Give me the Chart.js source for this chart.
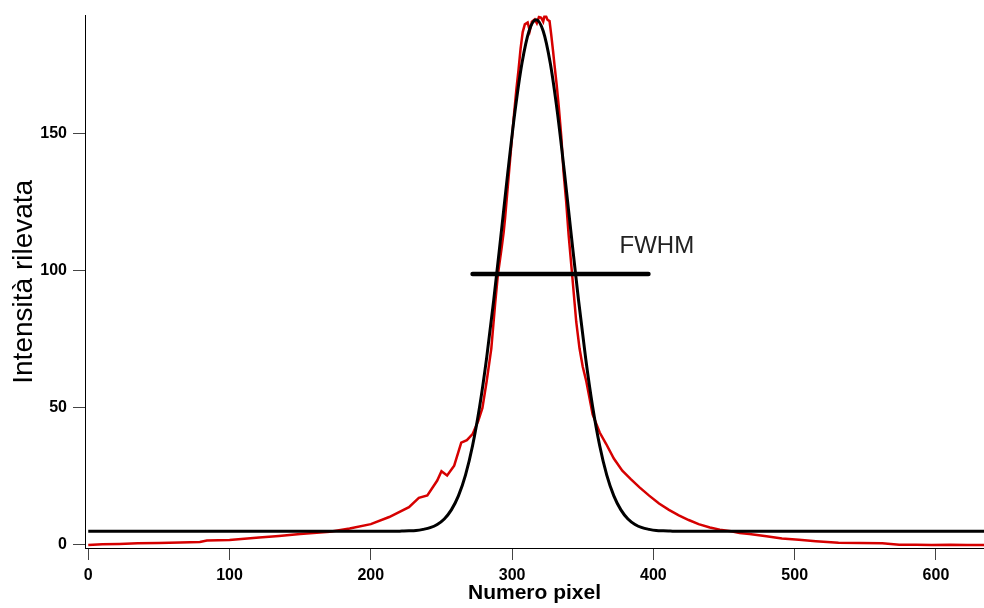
<!DOCTYPE html>
<html>
<head>
<meta charset="utf-8">
<title>Profilo di intensità</title>
<script src="https://cdn.jsdelivr.net/npm/chart.js@4/dist/chart.umd.min.js"></script>
<style>
  html, body { margin: 0; padding: 0; background: #ffffff; }
  canvas { display: block; }
</style>
</head>
<body>
<canvas id="profilo" width="984" height="608"></canvas>
<script>
// Profilo misurato lungo la riga di pixel
const pixelMisurati = [0, 10, 22, 35, 50, 65, 79, 84, 100, 121, 135, 150, 171, 185, 200, 213, 227, 234, 240, 247, 250, 254, 259, 264, 268, 272, 276, 279, 282, 285.3, 288, 290, 292.5, 294, 295, 297, 299, 301, 303, 304.5, 306, 307.5, 309, 311, 312.5, 314, 316, 317.5, 319, 320.6, 322, 323, 324, 325, 326.5, 327.7, 329, 330, 331.5, 333, 334.8, 336.4, 338.3, 340, 342.5, 345.4, 347.7, 350, 352.5, 357, 362, 366.6, 372, 378, 384, 390, 397, 404, 411, 418, 425, 432, 440, 447, 455, 461, 468, 480, 491, 503, 515, 531, 546, 562, 574, 586, 597, 610, 622, 634];
const intensitaMisurata = [0, 0.3, 0.4, 0.6, 0.7, 0.9, 1.1, 1.6, 1.8, 2.7, 3.3, 4.0, 4.8, 6.0, 7.6, 10.2, 13.8, 17.2, 18.1, 23.5, 26.9, 25.3, 28.9, 37.3, 38.2, 40.4, 45.2, 50, 59.7, 71.7, 88, 98.8, 108, 113.9, 119, 131, 143, 155, 166, 173, 181, 187, 189.8, 190.5, 187.5, 190.8, 191.6, 190.2, 192.5, 192.2, 190.8, 193, 192.8, 191.5, 191, 186, 180, 175, 168, 160, 149, 136, 125, 113, 98.5, 81.3, 71.7, 65, 59.7, 47.6, 41, 36.8, 31.5, 27.1, 24, 21.1, 18, 15.1, 12.8, 10.8, 9.1, 7.6, 6.4, 5.6, 5.0, 4.4, 4.0, 3.2, 2.4, 1.9, 1.4, 0.8, 0.7, 0.6, 0.1, 0.1, 0, 0.1, 0, 0];

// Curva di fit (gaussiana con fondo costante)
const pixelFit = [0, 150, 200, 217, 222, 227, 232, 237, 242, 247, 252, 257, 262, 267, 272, 277, 282, 287, 292, 297, 302, 307, 312, 317, 322, 327, 332, 337, 342, 347, 352, 357, 362, 367, 372, 377, 382, 387, 392, 397, 402, 407, 412, 417, 450, 634];
const intensitaFit = [5, 5, 5, 5.0, 5.07, 5.15, 5.3, 5.7, 6.3, 7.5, 9.5, 12.8, 17.9, 25.5, 36.2, 50.4, 68.3, 89.3, 112.4, 136.0, 157.9, 175.7, 187.4, 191.5, 187.4, 175.7, 157.9, 136.0, 112.4, 89.3, 68.3, 50.4, 36.2, 25.5, 17.9, 12.8, 9.5, 7.5, 6.3, 5.7, 5.3, 5.15, 5.07, 5.0, 5, 5];

// Segmento della larghezza a metà altezza
const fwhmPixel = [272, 396.5];
const fwhmLivello = [98.8, 98.8];

const tickX = [0, 100, 200, 300, 400, 500, 600];
const tickY = [0, 50, 100, 150];

const punti = (xs, ys) => xs.map((x, i) => ({ x: x, y: ys[i] }));

const etichettaFWHM = {
  id: 'etichettaFWHM',
  afterDatasetsDraw(chart) {
    const { ctx, scales } = chart;
    ctx.save();
    ctx.font = '24px "Liberation Sans", Arial, sans-serif';
    ctx.fillStyle = '#222222';
    ctx.textAlign = 'left';
    ctx.textBaseline = 'middle';
    ctx.fillText('FWHM', scales.x.getPixelForValue(376), scales.y.getPixelForValue(109));
    ctx.restore();
  }
};

const fontTick = { family: '"Liberation Sans", Arial, sans-serif', size: 16, weight: 'bold' };

new Chart(document.getElementById('profilo'), {
  type: 'line',
  data: {
    datasets: [
      {
        label: 'FWHM',
        data: punti(fwhmPixel, fwhmLivello),
        borderColor: '#000000',
        borderWidth: 4.5,
        borderCapStyle: 'round',
        pointRadius: 0,
        order: 0
      },
      {
        label: 'Fit',
        data: punti(pixelFit, intensitaFit),
        borderColor: '#000000',
        borderWidth: 3,
        cubicInterpolationMode: 'monotone',
        pointRadius: 0,
        order: 1
      },
      {
        label: 'Misura',
        data: punti(pixelMisurati, intensitaMisurata),
        borderColor: '#d60000',
        borderWidth: 2.5,
        pointRadius: 0,
        order: 2
      }
    ]
  },
  options: {
    responsive: false,
    animation: false,
    layout: { padding: { top: 12, right: 0, left: 0, bottom: 0 } },
    plugins: { legend: { display: false }, tooltip: { enabled: false } },
    scales: {
      x: {
        type: 'linear',
        min: -2.3,
        max: 634,
        afterBuildTicks: (s) => { s.ticks = tickX.map(v => ({ value: v })); },
        afterFit: (s) => { s.height = 60; },
        border: { display: true, color: '#000000', width: 1 },
        grid: { display: true, drawOnChartArea: false, drawTicks: true, tickLength: 12, tickColor: '#444444' },
        ticks: { color: '#000000', font: fontTick, padding: 6, maxRotation: 0 },
        title: {
          display: true,
          text: 'Numero pixel',
          color: '#000000',
          font: { family: '"Liberation Sans", Arial, sans-serif', size: 21, weight: 'bold' },
          padding: { top: 0, bottom: 2 }
        }
      },
      y: {
        type: 'linear',
        min: -1.1,
        max: 193,
        afterBuildTicks: (s) => { s.ticks = tickY.map(v => ({ value: v })); },
        afterFit: (s) => { s.width = 85; },
        border: { display: true, color: '#000000', width: 1 },
        grid: { display: true, drawOnChartArea: false, drawTicks: true, tickLength: 12, tickColor: '#444444' },
        ticks: { color: '#000000', font: fontTick, padding: 6 },
        title: {
          display: true,
          text: 'Intensità rilevata',
          color: '#000000',
          font: { family: '"Liberation Sans", Arial, sans-serif', size: 28 },
          padding: { top: 7, bottom: 0 }
        }
      }
    }
  },
  plugins: [etichettaFWHM]
});
</script>
</body>
</html>
